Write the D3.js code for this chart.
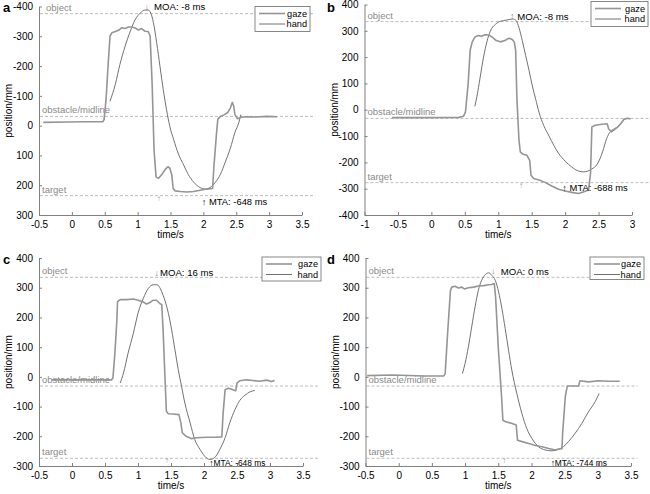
<!DOCTYPE html>
<html><head><meta charset="utf-8">
<script src="https://cdn.jsdelivr.net/npm/d3@7"></script>
<style>
body{margin:0;background:#fff}
svg{display:block;font-family:"Liberation Sans",Arial,"DejaVu Sans",sans-serif}
</style></head>
<body><svg id="c" width="650" height="494"></svg>
<script>
// ---------- data ----------
const panelLetters = ["a", "b", "c", "d"];
const xDomains = [[-0.5, 3.5], [-1, 3], [-0.5, 3.5], [-0.5, 3.5]];
const yDomains = [[-400, 300], [400, -400], [400, -300], [400, -300]]; // top -> bottom
const xTickValues = [
  [-0.5, 0, 0.5, 1, 1.5, 2, 2.5, 3, 3.5],
  [-1, -0.5, 0, 0.5, 1, 1.5, 2, 2.5, 3],
  [-0.5, 0, 0.5, 1, 1.5, 2, 2.5, 3, 3.5],
  [-0.5, 0, 0.5, 1, 1.5, 2, 2.5, 3, 3.5]
];
const yTickValues = [
  [-400, -300, -200, -100, 0, 100, 200, 300],
  [400, 300, 200, 100, 0, -100, -200, -300, -400],
  [400, 300, 200, 100, 0, -100, -200, -300],
  [400, 300, 200, 100, 0, -100, -200, -300]
];
const xLabel = "time/s";
const yLabel = "position/mm";
const seriesNames = ["gaze", "hand"];
const refNames = ["object", "obstacle/midline", "target"];
const refLevels = [[-376, -31, 235], [335, -33, -277], [335, -31, -274], [335, -31, -274]];
const refLineEnd = [3.7, 3.28, 3.75, 3.6];

const gazeA = [[-0.434,-11],[-0.079,-12],[0.175,-13],[0.47,-13],[0.49,-20],[0.52,-88],[0.55,-200],[0.58,-301],[0.61,-312],[0.66,-316],[0.71,-320],[0.76,-329],[0.81,-326],[0.86,-331],[0.91,-331],[0.96,-328],[1.01,-321],[1.06,-326],[1.11,-317],[1.16,-316],[1.19,-301],[1.22,-144],[1.25,82],[1.28,172],[1.32,177],[1.37,163],[1.42,147],[1.46,138],[1.49,143],[1.52,166],[1.54,211],[1.57,219],[1.65,221],[1.75,223],[1.85,221],[1.95,217],[2.05,213],[2.14,211],[2.16,138],[2.20,25],[2.22,-22],[2.26,-31],[2.32,-37],[2.37,-44],[2.41,-59],[2.44,-78],[2.46,-67],[2.48,-37],[2.52,-23],[2.57,-28],[2.66,-30],[2.81,-29],[2.97,-31],[3.12,-30]];
const handA = [[0.58,-82],[0.66,-138],[0.73,-205],[0.81,-267],[0.89,-318],[0.96,-355],[1.04,-378],[1.11,-388],[1.16,-388],[1.20,-378],[1.24,-346],[1.29,-278],[1.34,-199],[1.39,-121],[1.44,-53],[1.49,3],[1.55,48],[1.62,95],[1.70,132],[1.77,164],[1.85,189],[1.95,208],[2.03,213],[2.10,208],[2.18,191],[2.26,163],[2.33,124],[2.41,76],[2.48,23],[2.54,-11],[2.57,-37]];

const gazeB = [[-0.59,-30],[-0.09,-30],[0.41,-29],[0.48,-25],[0.51,-8],[0.55,99],[0.58,226],[0.61,257],[0.65,276],[0.70,282],[0.75,279],[0.80,285],[0.86,284],[0.91,276],[0.97,263],[1.03,258],[1.10,263],[1.16,272],[1.21,267],[1.24,257],[1.26,226],[1.28,36],[1.31,-116],[1.33,-160],[1.37,-169],[1.43,-173],[1.47,-192],[1.49,-249],[1.53,-261],[1.61,-267],[1.70,-276],[1.80,-290],[1.90,-302],[2.00,-309],[2.10,-314],[2.20,-318],[2.28,-312],[2.35,-305],[2.38,-242],[2.40,-65],[2.45,-59],[2.55,-55],[2.63,-53],[2.65,-72],[2.69,-84],[2.74,-75],[2.79,-65],[2.84,-50],[2.88,-36],[2.93,-32],[2.98,-35]];
const handB = [[0.65,13],[0.68,49],[0.73,124],[0.78,200],[0.83,258],[0.88,298],[0.96,325],[1.03,336],[1.13,341],[1.22,345],[1.27,338],[1.31,312],[1.36,262],[1.41,206],[1.46,150],[1.51,90],[1.56,40],[1.61,-10],[1.68,-60],[1.76,-100],[1.83,-135],[1.90,-165],[2.00,-195],[2.10,-218],[2.20,-233],[2.28,-236],[2.40,-225],[2.48,-207],[2.56,-160],[2.62,-110],[2.68,-82],[2.74,-72],[2.80,-62],[2.85,-46],[2.89,-36],[2.93,-33]];

const gazeC = [[-0.31,-10],[0.17,-10],[0.60,-10],[0.62,-4],[0.65,80],[0.68,191],[0.69,253],[0.73,260],[0.83,260],[0.93,262],[1.00,258],[1.08,252],[1.13,245],[1.18,250],[1.23,258],[1.28,258],[1.33,247],[1.36,243],[1.38,158],[1.41,-10],[1.43,-116],[1.46,-124],[1.53,-125],[1.62,-127],[1.65,-155],[1.67,-188],[1.73,-200],[1.81,-208],[1.89,-205],[2.04,-203],[2.19,-203],[2.27,-202],[2.29,-121],[2.32,-43],[2.37,-38],[2.42,-42],[2.48,-47],[2.50,-21],[2.54,-13],[2.64,-10],[2.74,-12],[2.84,-15],[2.95,-11],[3.02,-16],[3.07,-12]];
const handC = [[0.73,-21],[0.78,13],[0.85,80],[0.93,147],[1.00,214],[1.08,264],[1.155,297],[1.23,310],[1.29,310],[1.34,296],[1.38,275],[1.46,214],[1.51,158],[1.56,91],[1.61,24],[1.66,-32],[1.71,-88],[1.79,-155],[1.86,-211],[1.94,-244],[2.01,-267],[2.09,-278],[2.16,-272],[2.24,-244],[2.32,-205],[2.39,-155],[2.47,-110],[2.54,-80],[2.62,-62],[2.70,-50],[2.77,-46]];

const gazeD = [[-0.475,4],[-0.10,6],[0.40,3],[0.68,3],[0.70,11],[0.74,157],[0.78,291],[0.80,302],[0.85,305],[0.90,299],[0.95,302],[0.99,296],[1.05,300],[1.13,302],[1.20,306],[1.28,307],[1.35,310],[1.40,311],[1.44,314],[1.46,269],[1.50,101],[1.55,-67],[1.57,-146],[1.61,-151],[1.71,-157],[1.77,-162],[1.79,-213],[1.86,-218],[1.96,-224],[2.06,-231],[2.16,-235],[2.26,-241],[2.36,-246],[2.41,-243],[2.46,-242],[2.47,-190],[2.51,-67],[2.54,-31],[2.61,-31],[2.71,-31],[2.73,-13],[2.86,-17],[3.01,-13],[3.16,-15],[3.33,-15]];
const handD = [[0.96,11],[1.00,45],[1.05,101],[1.10,168],[1.15,235],[1.20,291],[1.25,325],[1.305,344],[1.355,350],[1.405,341],[1.455,325],[1.505,286],[1.555,230],[1.605,162],[1.655,90],[1.705,22],[1.78,-56],[1.856,-123],[1.93,-174],[2.006,-207],[2.106,-235],[2.207,-246],[2.307,-249],[2.407,-244],[2.482,-235],[2.558,-218],[2.658,-190],[2.758,-157],[2.858,-118],[2.959,-84],[3.02,-56]];

const gazeSeries = [gazeA, gazeB, gazeC, gazeD];
const handSeries = [handA, handB, handC, handD];

// annotations: [x, y] anchors in data units
const moaLabels = ["MOA: -8 ms", "MOA: -8 ms", "MOA: 16 ms", "MOA: 0 ms"];
const moaArrows = ["↓", "↑", "↓", "↓"];
const moaArrowPos = [[1.14, -397], [1.21, 356], [1.283, 350], [1.425, 356]];
const moaTextPos = [[1.25, -400], [1.285, 356], [1.333, 350], [1.537, 356]];
const gazeArrowPos = [[1.32, 246], [1.34, -286], [1.435, -280], [1.59, -281]];
const mtaLabels = ["↑ MTA: -648 ms", "↑ MTA: -688 ms", "↑MTA: -648 ms", "↑MTA: -744 ms"];
const mtaTextPos = [[1.975, 253], [1.958, -294], [2.08, -289], [2.29, -289]];

// ---------- layout ----------
const layout = [
  {l: 39, r: 302, t: 6.5, b: 215, leg: [255, 6.5, 55, 25], lx: 3, ly: 12, mtaSize: 9.4},
  {l: 364.5, r: 632, t: 4.5, b: 215, leg: [591, 1.5, 57, 25], lx: 327, ly: 12, mtaSize: 9.4},
  {l: 39, r: 303, t: 258, b: 466, leg: [262, 257, 59, 24], lx: 3, ly: 264, mtaSize: 8.4},
  {l: 365.5, r: 631, t: 258, b: 466, leg: [590, 257, 54, 22.5], lx: 327, ly: 264, mtaSize: 8.4}
];

const svg = d3.select("#c");
const gazeColor = "#959595", handColor = "#727272", axisColor = "#808080";

panelLetters.forEach((letter, i) => {
  const L = layout[i];
  const x = d3.scaleLinear().domain(xDomains[i]).range([L.l, L.r]);
  const y = d3.scaleLinear().domain(yDomains[i]).range([L.t, L.b]);
  const g = svg.append("g");

  // reference lines
  refNames.forEach((name, k) => {
    const yy = y(refLevels[i][k]);
    g.append("line").attr("x1", L.l + 1).attr("x2", x(refLineEnd[i]))
      .attr("y1", yy).attr("y2", yy)
      .attr("stroke", "#bdbdbd").attr("stroke-width", 1).attr("stroke-dasharray", "3,2");
    g.append("text").attr("x", L.l + (k === 0 && i === 0 ? 7 : 3)).attr("y", yy - 3)
      .attr("font-size", 9.5).attr("fill", "#8a8a8a").text(name);
  });

  // axes
  const xa = d3.axisBottom(x).tickValues(xTickValues[i]).tickFormat(d => String(d))
    .tickSizeInner(-3).tickSizeOuter(0).tickPadding(6);
  const ya = d3.axisLeft(y).tickValues(yTickValues[i]).tickFormat(d => String(d))
    .tickSizeInner(-3).tickSizeOuter(0).tickPadding(6);
  const gx = g.append("g").attr("transform", `translate(0,${L.b})`).call(xa);
  const gy = g.append("g").attr("transform", `translate(${L.l},0)`).call(ya);
  [gx, gy].forEach(ax => {
    ax.select(".domain").attr("stroke", axisColor);
    ax.selectAll(".tick line").attr("stroke", axisColor);
    ax.selectAll(".tick text").attr("fill", "#000").attr("font-size", 10)
      .attr("font-family", "'Liberation Sans',Arial,sans-serif");
  });

  // axis labels
  g.append("text").attr("x", (L.l + L.r) / 2).attr("y", L.b + 23)
    .attr("text-anchor", "middle").attr("font-size", 10).text(xLabel);
  g.append("text").attr("transform", `translate(${L.l - 27},${(L.t + L.b) / 2}) rotate(-90)`)
    .attr("text-anchor", "middle").attr("font-size", 10).text(yLabel);

  // panel letter
  g.append("text").attr("x", L.lx).attr("y", L.ly).attr("font-size", 13)
    .attr("font-weight", "bold").text(letter);

  // series
  const line = d3.line().x(d => x(d[0])).y(d => y(d[1]));
  const lineSmooth = d3.line().x(d => x(d[0])).y(d => y(d[1])).curve(d3.curveMonotoneX);
  g.append("path").datum(handSeries[i]).attr("d", lineSmooth)
    .attr("fill", "none").attr("stroke", handColor).attr("stroke-width", 1);
  g.append("path").datum(gazeSeries[i]).attr("d", line)
    .attr("fill", "none").attr("stroke", gazeColor).attr("stroke-width", 1.6)
    .attr("stroke-linejoin", "round");

  // annotations
  g.append("text").attr("x", x(moaArrowPos[i][0])).attr("y", y(moaArrowPos[i][1]))
    .attr("text-anchor", "middle").attr("dominant-baseline", "central")
    .attr("font-size", 9).attr("fill", "#8a8a8a").text(moaArrows[i]);
  g.append("text").attr("x", x(moaTextPos[i][0])).attr("y", y(moaTextPos[i][1]))
    .attr("dominant-baseline", "central").attr("font-size", 9.6).attr("fill", "#000")
    .text(moaLabels[i]);
  g.append("text").attr("x", x(gazeArrowPos[i][0])).attr("y", y(gazeArrowPos[i][1]))
    .attr("text-anchor", "middle").attr("dominant-baseline", "central")
    .attr("font-size", 8).attr("fill", "#9a9a9a").text("↑");
  g.append("text").attr("x", x(mtaTextPos[i][0])).attr("y", y(mtaTextPos[i][1]))
    .attr("dominant-baseline", "central").attr("font-size", L.mtaSize).attr("fill", "#000")
    .text(mtaLabels[i]);

  // legend
  const [bx, by, bw, bh] = L.leg;
  const lg = g.append("g");
  lg.append("rect").attr("x", bx).attr("y", by).attr("width", bw).attr("height", bh)
    .attr("fill", "#fff").attr("stroke", "#6a6a6a").attr("stroke-width", 0.8);
  seriesNames.forEach((s, k) => {
    const yy = by + 7 + k * 10.5;
    lg.append("line").attr("x1", bx + 4).attr("x2", bx + 30).attr("y1", yy).attr("y2", yy)
      .attr("stroke", k === 0 ? gazeColor : handColor).attr("stroke-width", k === 0 ? 1.6 : 1);
    lg.append("text").attr("x", bx + bw - 3).attr("y", yy).attr("text-anchor", "end")
      .attr("dominant-baseline", "central").attr("font-size", 9.2).text(s);
  });
});
</script></body></html>
